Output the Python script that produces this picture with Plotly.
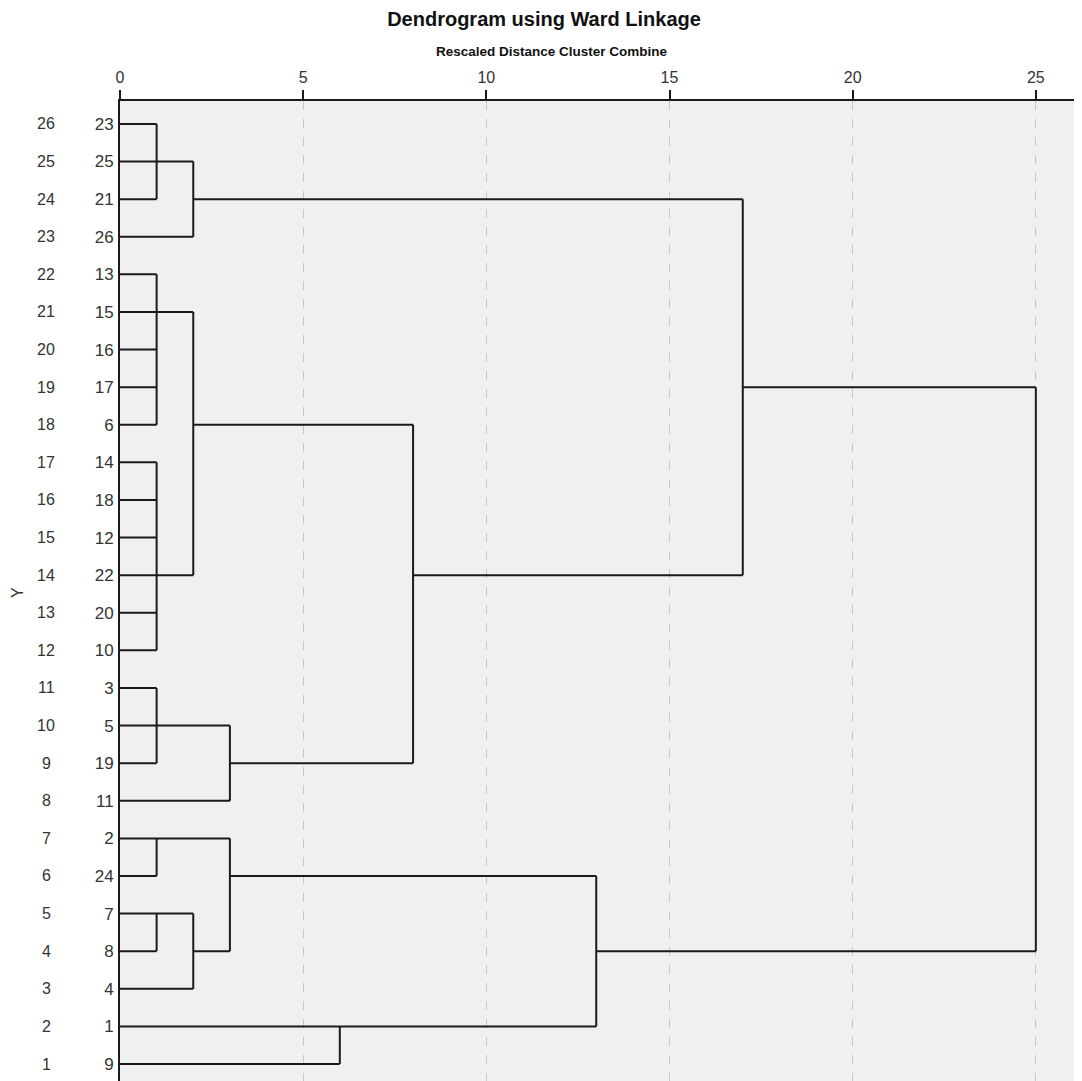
import plotly.graph_objects as go

# Case labels, top to bottom, and their row positions (outer "Y" labels)
case_labels = ["23", "25", "21", "26", "13", "15", "16", "17", "6", "14", "18", "12", "22",
               "20", "10", "3", "5", "19", "11", "2", "24", "7", "8", "4", "1", "9"]
row_numbers = [26, 25, 24, 23, 22, 21, 20, 19, 18, 17, 16, 15, 14,
               13, 12, 11, 10, 9, 8, 7, 6, 5, 4, 3, 2, 1]

# Horizontal links: row, start distance, end distance
h_row = [26, 25, 24, 24, 23, 22, 21, 20, 19, 19, 18, 18, 17, 16, 15, 14, 14,
         13, 12, 11, 10, 9, 9, 8, 7, 6, 6, 5, 4, 4, 4, 3, 2, 1]
h_start = [0, 0, 0, 2, 0, 0, 0, 0, 0, 17, 0, 2, 0, 0, 0, 0, 8,
           0, 0, 0, 0, 0, 3, 0, 0, 0, 3, 0, 0, 2, 13, 0, 0, 0]
h_end = [1, 2, 1, 17, 2, 1, 2, 1, 1, 25, 1, 8, 1, 1, 1, 2, 17,
         1, 1, 1, 3, 1, 8, 3, 3, 1, 13, 2, 1, 3, 25, 2, 13, 6]

# Vertical joins: distance, lower row, upper row
v_dist = [1, 2, 17, 1, 2, 1, 1, 3, 8, 25, 1, 1, 2, 3, 13, 6]
v_low = [24, 23, 14, 18, 14, 12, 9, 8, 9, 4, 6, 4, 3, 4, 2, 1]
v_high = [26, 25, 24, 22, 21, 17, 11, 10, 18, 19, 7, 5, 5, 7, 6, 2]

xs, ys = [], []
for r, a, b in zip(h_row, h_start, h_end):
    xs += [a, b, None]
    ys += [r, r, None]
for d, lo, hi in zip(v_dist, v_low, v_high):
    xs += [d, d, None]
    ys += [lo, hi, None]

fig = go.Figure()
fig.add_trace(go.Scatter(x=xs, y=ys, mode="lines",
                         line=dict(color="#1a1a1a", width=2),
                         hoverinfo="skip", showlegend=False))

font_family = "Liberation Sans, Arial, sans-serif"
W, H = 1074, 1073   # page body adds an 8px margin
L, T = 112, 93

fig.update_layout(
    width=W, height=H,
    margin=dict(l=L, r=0, t=T, b=0),
    paper_bgcolor="white",
    plot_bgcolor="#f0f0f0",
    font=dict(family=font_family, size=16, color="#333333"),
    title=dict(text="Dendrogram using Ward Linkage",
               font=dict(family=font_family, size=20, color="#111111", weight="bold"),
               x=(544 - 8) / W, xanchor="center", y=1 - 11 / H, yanchor="middle"),
    xaxis=dict(side="top", range=[0, 26.26], tickvals=[0, 5, 10, 15, 20, 25],
               ticks="outside", ticklen=9, tickwidth=2, tickcolor="#1a1a1a",
               showline=True, linecolor="#1a1a1a", linewidth=2,
               showgrid=True, gridcolor="#c8c8c8", griddash="dash", gridwidth=1,
               zeroline=False, ticklabelstandoff=1,
               tickfont=dict(size=16, color="#333333")),
    yaxis=dict(range=[0.548, 26.61], tickvals=row_numbers, ticktext=case_labels,
               ticks="", showline=True, linecolor="#1a1a1a", linewidth=2,
               showgrid=False, zeroline=False, ticklabelstandoff=1,
               tickfont=dict(size=17, color="#333333")),
)

# Subtitle
fig.add_annotation(text="Rescaled Distance Cluster Combine", xref="paper", yref="paper",
                   x=(552 - 120) / 962, y=1 + (101 - 52) / 980, xanchor="center", yanchor="middle",
                   showarrow=False,
                   font=dict(family=font_family, size=13.5, color="#111111", weight="bold"))

# Outer row labels
for r in row_numbers:
    fig.add_annotation(text=str(r), xref="paper", yref="y", x=0, y=r, xshift=-74,
                       xanchor="center", yanchor="middle", showarrow=False,
                       font=dict(size=16, color="#333333"))

# Y axis title
fig.add_annotation(text="Y", xref="paper", yref="paper", x=0, xshift=-103,
                   y=1 - (593 - 101) / 980, xanchor="center", yanchor="middle",
                   textangle=-90, showarrow=False, font=dict(size=16, color="#333333"))

fig.write_html("out.html")
